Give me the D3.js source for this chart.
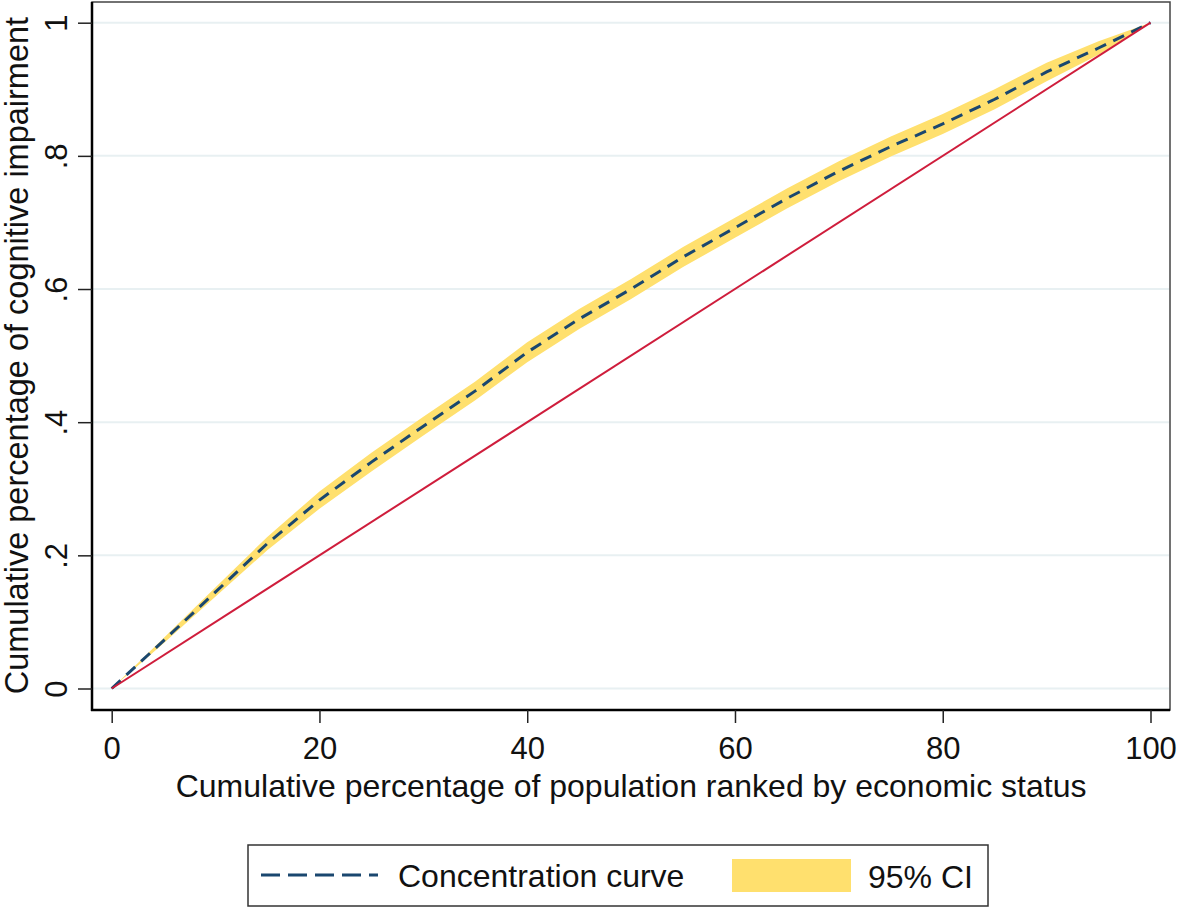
<!DOCTYPE html>
<html>
<head>
<meta charset="utf-8">
<script src="https://cdn.jsdelivr.net/npm/d3@7"></script>
<style>
  body { margin: 0; background: #ffffff; }
  text { font-family: "Liberation Sans", Arial, sans-serif; fill: #111; }
</style>
</head>
<body>
<div id="container"></div>
<script>
// cumulative % of population (ranked by economic status)
const popShare = [0, 5, 10, 15, 20, 25, 30, 35, 40, 45, 50, 55, 60, 65, 70, 75, 80, 85, 90, 95, 100];
// concentration curve of cognitive impairment
const concCurve = [0, 0.072, 0.145, 0.218, 0.283, 0.340, 0.394, 0.447, 0.505, 0.555, 0.600, 0.648, 0.692, 0.736, 0.777, 0.814, 0.848, 0.885, 0.926, 0.962, 1];
// 95% CI bounds
const ciLower = [0, 0.068, 0.138, 0.208, 0.270, 0.326, 0.380, 0.433, 0.490, 0.540, 0.585, 0.633, 0.677, 0.721, 0.762, 0.799, 0.833, 0.870, 0.912, 0.952, 1];
const ciUpper = [0, 0.076, 0.152, 0.228, 0.296, 0.354, 0.408, 0.461, 0.520, 0.570, 0.615, 0.663, 0.707, 0.751, 0.792, 0.829, 0.863, 0.900, 0.940, 0.972, 1];
// line of equality
const equalityX = [0, 100];
const equalityY = [0, 1];

const xTicks = [0, 20, 40, 60, 80, 100];
const yTicks = [0, 0.2, 0.4, 0.6, 0.8, 1];

const xTitle = 'Cumulative percentage of population ranked by economic status';
const yTitle = 'Cumulative percentage of cognitive impairment';
const legendLabels = ['Concentration curve', '95% CI'];

const W = 1180, H = 910;
const box = { left: 92, top: 2, right: 1170, bottom: 710 };
const fontFamily = '"Liberation Sans", Arial, sans-serif';

const svg = d3.select('#container').append('svg')
  .attr('width', W).attr('height', H);

const x = d3.scaleLinear().domain([0, 100]).range([111.7, 1150.5]);
const y = d3.scaleLinear().domain([0, 1]).range([688.5, 22.7]);

// plot region border
svg.append('rect')
  .attr('x', box.left).attr('y', box.top)
  .attr('width', box.right - box.left).attr('height', box.bottom - box.top)
  .style('fill', 'none').style('stroke', '#444').style('stroke-width', 1.5);

// gridlines
svg.append('g').selectAll('line').data(yTicks).join('line')
  .attr('x1', box.left + 1).attr('x2', box.right - 1)
  .attr('y1', d => y(d)).attr('y2', d => y(d))
  .style('stroke', '#e8f0f2').style('stroke-width', 2);

const rows = popShare.map((p, i) => ({ p, c: concCurve[i], lo: ciLower[i], hi: ciUpper[i] }));

// CI band
svg.append('path').datum(rows)
  .attr('d', d3.area().x(d => x(d.p)).y0(d => y(d.lo)).y1(d => y(d.hi)))
  .style('fill', '#ffe06e');

// concentration curve
svg.append('path').datum(rows)
  .attr('d', d3.line().x(d => x(d.p)).y(d => y(d.c)))
  .style('fill', 'none').style('stroke', '#1a476f').style('stroke-width', 3)
  .style('stroke-dasharray', '12,8');

// equality line
svg.append('path').datum(equalityX.map((v, i) => [v, equalityY[i]]))
  .attr('d', d3.line().x(d => x(d[0])).y(d => y(d[1])))
  .style('fill', 'none').style('stroke', '#cf1d3c').style('stroke-width', 2);

// x axis
const gx = svg.append('g').attr('transform', `translate(0,${box.bottom})`)
  .call(d3.axisBottom(x).tickValues(xTicks).tickSize(13).tickSizeOuter(0).tickFormat(d3.format('d')));
gx.select('.domain').attr('d', `M${box.left - 1},0H${box.right}`).style('stroke', '#000').style('stroke-width', 2.5);
gx.selectAll('.tick line').style('stroke', '#222').style('stroke-width', 1.5);
gx.selectAll('.tick text').attr('y', 49).attr('dy', 0)
  .style('font-size', '31px').style('font-family', fontFamily).style('fill', '#111');

// y axis
const gy = svg.append('g').attr('transform', `translate(${box.left},0)`)
  .call(d3.axisLeft(y).tickValues(yTicks).tickSize(14).tickSizeOuter(0)
    .tickFormat(d => d === 0 ? '0' : d === 1 ? '1' : d3.format('.1f')(d).replace('0.', '.')));
gy.select('.domain').attr('d', `M0,${box.top}V${box.bottom + 1}`).style('stroke', '#000').style('stroke-width', 2.5);
gy.selectAll('.tick line').style('stroke', '#222').style('stroke-width', 1.5);
gy.selectAll('.tick text')
  .attr('x', 0).attr('dy', 0).attr('y', 0)
  .attr('text-anchor', 'middle')
  .attr('transform', 'translate(-25,0) rotate(-90)')
  .style('font-size', '31px').style('font-family', fontFamily).style('fill', '#111');

// axis titles
svg.append('text')
  .attr('x', x(50)).attr('y', 797)
  .attr('text-anchor', 'middle')
  .style('font-size', '32px')
  .text(xTitle);

svg.append('text')
  .attr('transform', `translate(28,${y(0.5)}) rotate(-90)`)
  .attr('text-anchor', 'middle')
  .style('font-size', '32.5px')
  .text(yTitle);

// legend
const lg = svg.append('g');
lg.append('rect')
  .attr('x', 248).attr('y', 845).attr('width', 740).attr('height', 61)
  .style('fill', '#fff').style('stroke', '#333').style('stroke-width', 1.5);
lg.append('line')
  .attr('x1', 261).attr('x2', 378).attr('y1', 875).attr('y2', 875)
  .style('stroke', '#1a476f').style('stroke-width', 3).style('stroke-dasharray', '19,8');
lg.append('text').attr('x', 398).attr('y', 887).style('font-size', '32px').text(legendLabels[0]);
lg.append('rect')
  .attr('x', 732).attr('y', 859).attr('width', 119).attr('height', 33)
  .style('fill', '#ffe06e');
lg.append('text').attr('x', 868).attr('y', 888).style('font-size', '32px').text(legendLabels[1]);
</script>
</body>
</html>
